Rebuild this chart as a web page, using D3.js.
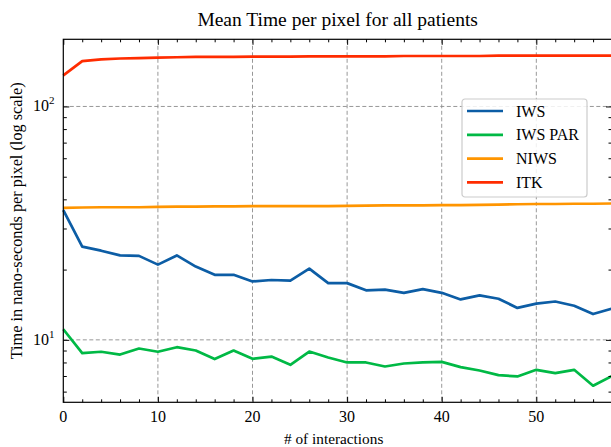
<!DOCTYPE html>
<html>
<head>
<meta charset="utf-8">
<script src="https://cdn.jsdelivr.net/npm/d3@7"></script>
<style>
  body { margin: 0; background: #fff; }
  svg { display: block; font-family: "Liberation Serif", "Times New Roman", serif; }
</style>
</head>
<body>
<script>
// interactions (x) and mean time per pixel for each method
const interactions = [0, 2, 4, 6, 8, 10, 12, 14, 16, 18, 20, 22, 24, 26, 28,
                      30, 32, 34, 36, 38, 40, 42, 44, 46, 48, 50, 52, 54, 56, 58];
const iws = [36.0, 25.1, 24.1, 23.0, 22.9, 21.0, 23.0, 20.6, 19.0, 19.0, 17.8, 18.05, 17.95, 20.2, 17.5,
             17.5, 16.3, 16.4, 15.9, 16.5, 15.9, 14.9, 15.5, 15.0, 13.7, 14.3, 14.6, 14.0, 12.9, 13.6];
const iwsPar = [11.1, 8.77, 8.89, 8.65, 9.18, 8.89, 9.30, 9.0, 8.27, 9.0, 8.29, 8.48, 7.82, 8.91, 8.4,
                8.0, 8.0, 7.69, 7.92, 8.0, 8.05, 7.64, 7.39, 7.06, 6.97, 7.44, 7.2, 7.44, 6.36, 7.0];
const niws = [36.8, 36.9, 37.0, 37.0, 37.0, 37.1, 37.2, 37.2, 37.3, 37.3, 37.4, 37.4, 37.4, 37.4, 37.4,
              37.5, 37.6, 37.7, 37.7, 37.7, 37.8, 37.8, 37.9, 38.0, 38.1, 38.2, 38.2, 38.3, 38.3, 38.4];
const itk = [136, 156.5, 159, 160.5, 161, 162, 162.5, 163, 163, 163, 163.5, 163.5, 163.5, 164, 164,
             164, 164, 164, 164.5, 164.5, 164.5, 164.5, 164.5, 165, 165, 165, 165, 165, 165, 165];

const seriesNames = ["IWS", "IWS PAR", "NIWS", "ITK"];
const seriesColors = ["#0C5DA5", "#00B945", "#FF9500", "#FF2C00"];
const seriesValues = [iws, iwsPar, niws, itk];

const xMajor = [0, 10, 20, 30, 40, 50];
const xMinor = d3.range(0, 59, 2);
const yMajor = [10, 100];
const yMajorExp = ["1", "2"];
const yMinor = [6, 7, 8, 9, 20, 30, 40, 50, 60, 70, 80, 90];

const W = 611, H = 447;
const mLeft = 63.3, mRight = 612, mTop = 39.3, mBottom = 402.3;

const svg = d3.select("body").append("svg")
  .attr("width", W).attr("height", H);

const x = d3.scaleLinear().domain([0, 58]).range([mLeft, mRight]);
const y = d3.scaleLog().domain([5.40, 194]).range([mBottom, mTop]);

// grid
const grid = svg.append("g")
  .attr("stroke", "#8c8c8c").attr("stroke-width", 0.9)
  .attr("stroke-dasharray", "4,2.5");
grid.selectAll("line.gx").data(xMajor.filter(d => d > 0)).enter()
  .append("line")
    .attr("x1", d => x(d)).attr("x2", d => x(d))
    .attr("y1", mTop).attr("y2", mBottom);
grid.selectAll("line.gy").data(yMajor).enter()
  .append("line")
    .attr("y1", d => y(d)).attr("y2", d => y(d))
    .attr("x1", mLeft).attr("x2", mRight);

// lines
const line = d3.line()
  .x((d, i) => x(interactions[i]))
  .y(d => y(d));

svg.append("g").selectAll("path").data(seriesValues).enter()
  .append("path")
    .attr("d", line)
    .attr("fill", "none")
    .attr("stroke", (d, i) => seriesColors[i])
    .attr("stroke-width", 2.7)
    .attr("stroke-linejoin", "round");

// ticks (pointing inward, on all four sides)
function ticks(axisFn, scale, values, size, translate) {
  svg.append("g")
    .attr("transform", translate)
    .call(axisFn(scale).tickValues(values).tickSize(-size).tickFormat(""))
    .call(g => g.select(".domain").remove())
    .call(g => g.selectAll("line").attr("stroke", "#000").attr("stroke-width", 1));
}
ticks(d3.axisBottom, x, xMajor, 5.5, `translate(0,${mBottom})`);
ticks(d3.axisBottom, x, xMinor.filter(d => d % 10 != 0), 3, `translate(0,${mBottom})`);
ticks(d3.axisTop, x, xMajor, 5.5, `translate(0,${mTop})`);
ticks(d3.axisTop, x, xMinor.filter(d => d % 10 != 0), 3, `translate(0,${mTop})`);
ticks(d3.axisLeft, y, yMajor, 6, `translate(${mLeft},0)`);
ticks(d3.axisLeft, y, yMinor, 3.5, `translate(${mLeft},0)`);
ticks(d3.axisRight, y, yMajor, 6, `translate(${mRight},0)`);
ticks(d3.axisRight, y, yMinor, 3.5, `translate(${mRight},0)`);

// frame
svg.append("rect")
  .attr("x", mLeft).attr("y", mTop)
  .attr("width", mRight - mLeft).attr("height", mBottom - mTop)
  .attr("fill", "none").attr("stroke", "#000").attr("stroke-width", 1.2);

// tick labels
svg.append("g").selectAll("text").data(xMajor).enter()
  .append("text")
    .attr("x", d => x(d)).attr("y", 421.5)
    .attr("text-anchor", "middle")
    .attr("font-size", 16)
    .text(d => d);

const yl = svg.append("g").selectAll("text").data(yMajor).enter()
  .append("text")
    .attr("x", 54.5).attr("y", d => y(d) + 5)
    .attr("text-anchor", "end")
    .attr("font-size", 16);
yl.append("tspan").text("10");
yl.append("tspan").attr("dy", -7).attr("font-size", 11).text((d, i) => yMajorExp[i]);

// title and axis labels
svg.append("text")
  .attr("x", (mLeft + mRight) / 2).attr("y", 26)
  .attr("text-anchor", "middle").attr("font-size", 19.5)
  .text("Mean Time per pixel for all patients");

svg.append("text")
  .attr("x", (mLeft + mRight) / 2 - 4).attr("y", 443.5)
  .attr("text-anchor", "middle").attr("font-size", 15.3)
  .text("# of interactions");

svg.append("text")
  .attr("transform", `translate(21.5,${(mTop + mBottom) / 2}) rotate(-90)`)
  .attr("text-anchor", "middle").attr("font-size", 16.3)
  .text("Time in nano-seconds per pixel (log scale)");

// legend
const legend = svg.append("g").attr("transform", "translate(462,99)");
legend.append("rect")
  .attr("width", 125).attr("height", 98).attr("rx", 3)
  .attr("fill", "#fff").attr("fill-opacity", 0.85)
  .attr("stroke", "#cccccc").attr("stroke-width", 1.2);
const item = legend.selectAll("g.item").data(seriesNames).enter()
  .append("g")
    .attr("transform", (d, i) => `translate(0,${12 + i * 23.8})`);
item.append("line")
  .attr("x1", 5).attr("x2", 41)
  .attr("stroke", (d, i) => seriesColors[i])
  .attr("stroke-width", 2.7);
item.append("text")
  .attr("x", 54).attr("y", 5.5)
  .attr("font-size", 16)
  .text(d => d);
</script>
</body>
</html>
